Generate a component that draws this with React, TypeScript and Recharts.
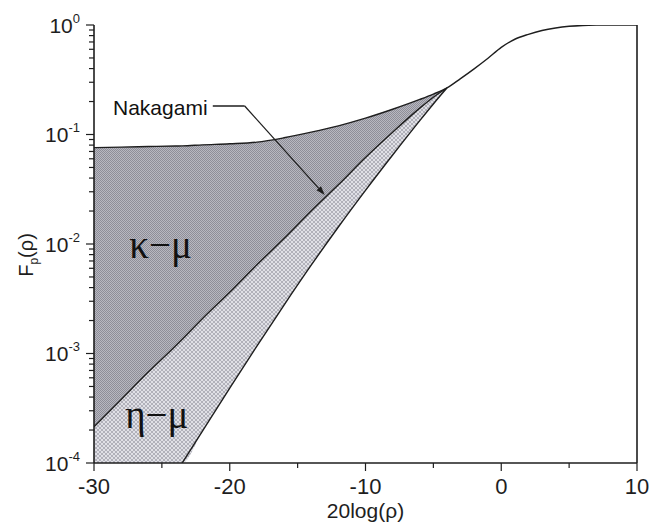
import {
  Area,
  ComposedChart,
  Label,
  Line,
  ReferenceDot,
  ReferenceLine,
  XAxis,
  YAxis,
} from 'recharts'

// 20log(rho) in dB, shared grid
const xDb = [
  -30, -28, -26, -24, -23.5, -22, -20, -18, -16, -14, -12, -10, -8, -6, -5, -4,
  -3, -2, -1, 0, 1, 2, 3, 4, 5, 6, 7, 8, 10,
]

// upper bound of the kappa-mu region, then the common curve
const kappaMuUpper = [
  0.0759, 0.0767, 0.0776, 0.0785, 0.0787, 0.0804, 0.0822, 0.0851, 0.0933, 0.105,
  0.12, 0.141, 0.17, 0.209, 0.234, 0.266, 0.324, 0.398, 0.495, 0.624, 0.741, 0.822,
  0.891, 0.94, 0.973, 0.991, 0.998, 1.0, 1.0,
]

// Nakagami curve (shared boundary)
const nakagamiX = [-30, -28, -26, -24, -23.5, -22, -20, -18, -16, -14, -12, -10, -8, -6, -5, -4]
const nakagami = [
  2.14e-4, 3.8e-4, 6.76e-4, 1.17e-3, 1.35e-3, 2.09e-3, 3.63e-3, 6.46e-3, 1.12e-2,
  2.0e-2, 3.47e-2, 6.17e-2, 0.105, 0.174, 0.219, 0.266,
]

// lower bound of the eta-mu region
const etaMuLowerX = [-23.5, -22, -20, -18, -16, -14, -12, -10, -8, -6, -5, -4]
const etaMuLower = [
  1.0e-4, 1.97e-4, 4.84e-4, 1.17e-3, 2.77e-3, 6.4e-3, 1.43e-2, 3.09e-2, 6.5e-2,
  0.134, 0.19, 0.266,
]

const xTicks = [-30, -25, -20, -15, -10, -5, 0, 5, 10]
const yTicks = (() => {
  const t: number[] = []
  for (let k = -4; k < 0; k++) {
    for (let m = 1; m < 10; m++) t.push(m * Math.pow(10, k))
  }
  t.push(1)
  return t
})()

const Y_MIN = 1e-4
const W = 651
const H = 523
const INK = '#1e1e1e'
const SANS = 'Arial, "Liberation Sans", Helvetica, sans-serif'
const SERIF = '"Times New Roman", "Liberation Serif", serif'

type Row = {
  x: number
  up: number
  mid?: number
  low?: number
  kBand?: [number, number]
  eBand?: [number, number]
}

const rows: Row[] = xDb.map((x, i) => {
  const ni = nakagamiX.indexOf(x)
  const li = etaMuLowerX.indexOf(x)
  const mid = ni >= 0 ? nakagami[ni] : undefined
  const low = li >= 0 ? etaMuLower[li] : undefined
  const r: Row = { x, up: kappaMuUpper[i], mid, low }
  if (mid != null) {
    r.kBand = [mid, kappaMuUpper[i]]
    // below -23.5 dB the eta-mu boundary is off the axis, so the band stops at the floor
    r.eBand = [low ?? Y_MIN, mid]
  }
  return r
})

function isMajor(v: number) {
  const l = Math.log10(v)
  return Math.abs(l - Math.round(l)) < 1e-6
}

// eslint-disable-next-line @typescript-eslint/no-explicit-any
function YTick(props: any) {
  const { x, y, payload } = props
  const v = payload.value as number
  const major = isMajor(v)
  return (
    <g>
      <line x1={x - (major ? 8 : 5)} x2={x} y1={y} y2={y} stroke={INK} strokeWidth={1.2} />
      {major && (
        <text x={x - 14} y={y + 7.5} textAnchor="end" fontFamily={SANS} fontSize={21} fill={INK}>
          <tspan>10</tspan>
          <tspan dy={-10} fontSize={13}>
            {Math.round(Math.log10(v))}
          </tspan>
        </text>
      )}
    </g>
  )
}

// eslint-disable-next-line @typescript-eslint/no-explicit-any
function XTickBottom(props: any) {
  const { x, y, payload } = props
  const v = payload.value as number
  const major = v % 10 === 0
  return (
    <g>
      <line x1={x} x2={x} y1={y} y2={y + (major ? 8 : 5)} stroke={INK} strokeWidth={1.2} />
      {major && (
        <text x={x} y={y + 31} textAnchor="middle" fontFamily={SANS} fontSize={22} fill={INK}>
          {v}
        </text>
      )}
    </g>
  )
}

// eslint-disable-next-line @typescript-eslint/no-explicit-any
function XTickTop(props: any) {
  const { x, y, payload } = props
  const v = payload.value as number
  if (v === -30 || v === 10) return <g />
  const major = v % 10 === 0
  return <line x1={x} x2={x} y1={y} y2={y + (major ? 8 : 5)} stroke={INK} strokeWidth={1.2} />
}

// eslint-disable-next-line @typescript-eslint/no-explicit-any
function YTitle(props: any) {
  const vb = props.viewBox
  const cx = vb.x + 33
  const cy = vb.y + vb.height / 2 + 11
  return (
    <text
      x={cx}
      y={cy}
      transform={`rotate(-90 ${cx} ${cy})`}
      textAnchor="middle"
      fontFamily={SANS}
      fontSize={20}
      fill={INK}
    >
      <tspan>F</tspan>
      <tspan fontSize={12} dy={5}>
        p
      </tspan>
      <tspan dy={-5}>(ρ)</tspan>
    </text>
  )
}

// eslint-disable-next-line @typescript-eslint/no-explicit-any
function XTitle(props: any) {
  const vb = props.viewBox
  return (
    <text
      x={vb.x + vb.width / 2}
      y={vb.y + 55}
      textAnchor="middle"
      fontFamily={SANS}
      fontSize={21}
      fill={INK}
    >
      20log(ρ)
    </text>
  )
}

// eslint-disable-next-line @typescript-eslint/no-explicit-any
function ArrowShape(props: any) {
  const { x1, y1, x2, y2 } = props
  const a = Math.atan2(y2 - y1, x2 - x1)
  const L = 9
  const w = 3
  const bx = x2 - L * Math.cos(a)
  const by = y2 - L * Math.sin(a)
  const px = -Math.sin(a) * w
  const py = Math.cos(a) * w
  return (
    <g>
      <line x1={x1} y1={y1} x2={bx} y2={by} stroke={INK} strokeWidth={1.3} />
      <polygon points={`${x2},${y2} ${bx + px},${by + py} ${bx - px},${by - py}`} fill={INK} />
    </g>
  )
}

function textAt(text: string, size: number, family: string) {
  // eslint-disable-next-line @typescript-eslint/no-explicit-any
  return (p: any) => (
    <text x={p.cx} y={p.cy} fontFamily={family} fontSize={size} fill="#111">
      {text}
    </text>
  )
}

export default function App() {
  return (
    <div style={{ position: 'absolute', left: 0, top: 0, width: W, height: H, background: '#fff' }}>
      <ComposedChart
        width={W}
        height={H}
        data={rows}
        margin={{ top: 25, right: 14, bottom: 0, left: 0 }}
      >
        <defs>
          <pattern id="stipple" width={2} height={2} patternUnits="userSpaceOnUse">
            <rect width={2} height={2} fill="#b8b8c0" />
            <rect width={1} height={1} fill="#8e8e98" />
            <rect x={1} y={1} width={1} height={1} fill="#8e8e98" />
          </pattern>
          <pattern id="hatch" width={4} height={4} patternUnits="userSpaceOnUse">
            <rect width={4} height={4} fill="#e0e0e6" />
            <path d="M0,0 L4,4 M4,0 L0,4" stroke="#a4a4ae" strokeWidth={0.8} />
          </pattern>
        </defs>

        <XAxis
          xAxisId="b"
          dataKey="x"
          type="number"
          domain={[-30, 10]}
          ticks={xTicks}
          allowDataOverflow
          height={60}
          tickSize={0}
          tickMargin={0}
          tickLine={false}
          tick={XTickBottom}
          axisLine={{ stroke: INK, strokeWidth: 1.6 }}
          interval={0}
        >
          <Label content={XTitle} />
        </XAxis>
        <XAxis
          xAxisId="t"
          orientation="top"
          dataKey="x"
          type="number"
          domain={[-30, 10]}
          ticks={xTicks}
          allowDataOverflow
          height={0}
          tickSize={0}
          tickMargin={0}
          tickLine={false}
          tick={XTickTop}
          axisLine={{ stroke: INK, strokeWidth: 1.6 }}
          interval={0}
        />
        <YAxis
          type="number"
          scale="log"
          domain={[1e-4, 1]}
          ticks={yTicks}
          allowDataOverflow
          width={94}
          tickSize={0}
          tickMargin={0}
          tickLine={false}
          tick={YTick}
          axisLine={{ stroke: INK, strokeWidth: 1.6 }}
          interval={0}
        >
          <Label content={YTitle} />
        </YAxis>

        <Area
          xAxisId="b"
          type="monotone"
          dataKey="eBand"
          stroke="none"
          fill="url(#hatch)"
          fillOpacity={1}
          isAnimationActive={false}
          dot={false}
          activeDot={false}
        />
        <Area
          xAxisId="b"
          type="monotone"
          dataKey="kBand"
          stroke="none"
          fill="url(#stipple)"
          fillOpacity={1}
          isAnimationActive={false}
          dot={false}
          activeDot={false}
        />

        <Line
          xAxisId="b"
          type="monotone"
          dataKey="low"
          stroke={INK}
          strokeWidth={1.4}
          dot={false}
          activeDot={false}
          isAnimationActive={false}
        />
        <Line
          xAxisId="b"
          type="monotone"
          dataKey="mid"
          stroke={INK}
          strokeWidth={1.4}
          dot={false}
          activeDot={false}
          isAnimationActive={false}
        />
        <Line
          xAxisId="b"
          type="monotone"
          dataKey="up"
          stroke={INK}
          strokeWidth={1.4}
          dot={false}
          activeDot={false}
          isAnimationActive={false}
        />

        <ReferenceLine xAxisId="b" x={10} stroke={INK} strokeWidth={1.6} />

        <ReferenceLine
          xAxisId="b"
          segment={[
            { x: -21.25, y: 0.182 },
            { x: -18.9, y: 0.182 },
          ]}
          stroke={INK}
          strokeWidth={1.3}
        />
        <ReferenceLine
          xAxisId="b"
          segment={[
            { x: -18.9, y: 0.182 },
            { x: -13.0, y: 0.028 },
          ]}
          shape={ArrowShape}
        />

        <ReferenceDot xAxisId="b" x={-28.6} y={0.151} r={0} shape={textAt('Nakagami', 21, SANS)} />
        <ReferenceDot xAxisId="b" x={-27.4} y={0.0074} r={0} shape={textAt('κ−μ', 39, SERIF)} />
        <ReferenceDot xAxisId="b" x={-27.7} y={2.1e-4} r={0} shape={textAt('η−μ', 39, SERIF)} />
      </ComposedChart>
    </div>
  )
}
